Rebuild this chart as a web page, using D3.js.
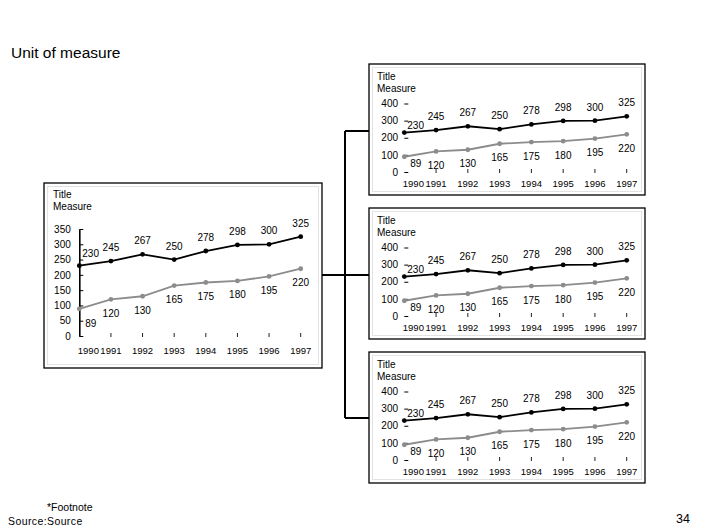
<!DOCTYPE html>
<html>
<head>
<meta charset="utf-8">
<script src="https://cdn.jsdelivr.net/npm/d3@7"></script>
<style>
body { margin: 0; background: #fff; }
svg text { font-family: "Liberation Sans", Arial, sans-serif; fill: #000; }
</style>
</head>
<body>
<div id="chart"></div>
<script>
var years = ["1990", "1991", "1992", "1993", "1994", "1995", "1996", "1997"];
var seriesTop = [230, 245, 267, 250, 278, 298, 300, 325];
var seriesBottom = [89, 120, 130, 165, 175, 180, 195, 220];
var bigTicks = [0, 50, 100, 150, 200, 250, 300, 350];
var smallTicks = [0, 100, 200, 300, 400];

var width = 706, height = 529;

var svg = d3.select("#chart").append("svg")
	.attr("width", width)
	.attr("height", height);

// page texts
svg.append("text")
	.attr("x", 11).attr("y", 58)
	.attr("font-size", "15.5px")
	.text("Unit of measure");

svg.append("text")
	.attr("x", 47).attr("y", 511)
	.attr("font-size", "10.5px")
	.text("*Footnote");
svg.append("text")
	.attr("x", 8).attr("y", 525)
	.attr("font-size", "10.5px")
	.attr("letter-spacing", "0.4px")
	.text("Source:Source");
svg.append("text")
	.attr("x", 676).attr("y", 523)
	.attr("font-size", "12.5px")
	.text("34");

// connector lines
var connectors = svg.append("g")
	.attr("fill", "none")
	.attr("stroke", "#000")
	.attr("stroke-width", 2);
connectors.append("path").attr("d", "M322,275H369");
connectors.append("path").attr("d", "M345,131V418");
connectors.append("path").attr("d", "M345,131H369");
connectors.append("path").attr("d", "M345,418H369");

function drawPanel(cfg) {
	var g = svg.append("g")
		.attr("transform", "translate(" + cfg.x + "," + cfg.y + ")");

	// frame
	g.append("rect")
		.attr("x", 3.5).attr("y", 3.5)
		.attr("width", cfg.w - 7).attr("height", cfg.h - 7)
		.attr("fill", "none")
		.attr("stroke", "#e2e2e2");
	g.append("rect")
		.attr("x", 0).attr("y", 0)
		.attr("width", cfg.w).attr("height", cfg.h)
		.attr("fill", "none")
		.attr("stroke", "#000")
		.attr("stroke-width", 1.3);

	g.append("text").attr("x", cfg.titleX).attr("y", cfg.titleY)
		.attr("font-size", "10px").text("Title");
	g.append("text").attr("x", cfg.titleX).attr("y", cfg.titleY + 12)
		.attr("font-size", "10px").text("Measure");

	var x = d3.scalePoint()
		.domain(years)
		.range([cfg.left, cfg.right])
		.padding(0);

	var y = d3.scaleLinear()
		.domain([0, cfg.ticks[cfg.ticks.length - 1]])
		.range([cfg.zero, cfg.top]);

	/* ------- Y AXIS -------*/
	var yAxis = g.append("g")
		.attr("transform", "translate(" + cfg.left + ",0)")
		.call(d3.axisLeft(y)
			.tickValues(cfg.ticks)
			.tickSizeInner(-4)
			.tickSizeOuter(0)
			.tickPadding(cfg.labelPad));
	yAxis.selectAll("text")
		.attr("font-size", "10px")
		.attr("fill", "#000")
		.style("font-family", '"Liberation Sans", Arial, sans-serif');
	yAxis.selectAll("line").attr("stroke", "#000");
	yAxis.select(".domain")
		.attr("stroke", "#000")
		.attr("stroke-width", cfg.axisLine ? 1.6 : 0);

	/* ------- X TICKS + LABELS -------*/
	g.append("g").selectAll("line")
		.data(years.slice(1))
		.enter().append("line")
		.attr("x1", function (d) { return x(d); })
		.attr("x2", function (d) { return x(d); })
		.attr("y1", cfg.zero - 3)
		.attr("y2", cfg.zero + 1)
		.attr("stroke", "#222");

	g.append("g").selectAll("text")
		.data(years)
		.enter().append("text")
		.attr("x", function (d, i) { return i == 0 ? x(d) - 1.5 : x(d); })
		.attr("y", cfg.yearY)
		.attr("font-size", "9.5px")
		.attr("text-anchor", function (d, i) { return i == 0 ? "start" : "middle"; })
		.text(function (d) { return d; });

	/* ------- LINES -------*/
	var series = [
		{ values: seriesTop, color: "#000", above: true },
		{ values: seriesBottom, color: "#8c8c8c", above: false }
	];

	var line = d3.line()
		.x(function (d, i) { return x(years[i]); })
		.y(function (d) { return y(d); });

	series.forEach(function (s) {
		g.append("path")
			.datum(s.values)
			.attr("d", line)
			.attr("fill", "none")
			.attr("stroke", s.color)
			.attr("stroke-width", 1.8);

		g.append("g").selectAll("circle")
			.data(s.values)
			.enter().append("circle")
			.attr("cx", function (d, i) { return x(years[i]); })
			.attr("cy", function (d) { return y(d); })
			.attr("r", 2.4)
			.attr("fill", s.color);

		g.append("g").selectAll("text")
			.data(s.values)
			.enter().append("text")
			.attr("font-size", "10px")
			.attr("text-anchor", function (d, i) { return i == 0 ? "start" : "middle"; })
			.attr("x", function (d, i) {
				if (i == 0) return x(years[i]) + (s.above ? 3 : 6);
				return x(years[i]);
			})
			.attr("y", function (d, i) {
				if (i == 0) return y(d) + (s.above ? cfg.firstUp : cfg.firstDown);
				return y(d) + (s.above ? -10 : 17.5);
			})
			.text(function (d) { return d; });
	});
}

// big chart on the left
drawPanel({
	x: 44, y: 183, w: 278, h: 185,
	titleX: 9, titleY: 15,
	left: 35.3, right: 256.7,
	zero: 153, top: 46,
	ticks: bigTicks,
	labelPad: 8.5,
	axisLine: true,
	yearY: 170.5,
	firstUp: -9, firstDown: 18.5
});

// three small charts on the right
[64, 208, 352].forEach(function (top) {
	drawPanel({
		x: 369, y: top, w: 276, h: 131,
		titleX: 8, titleY: 16,
		left: 35.3, right: 257.7,
		zero: 108, top: 39.5,
		ticks: smallTicks,
		labelPad: 6.3,
		axisLine: false,
		yearY: 122.7,
		firstUp: -4, firstDown: 10
	});
});
</script>
</body>
</html>
